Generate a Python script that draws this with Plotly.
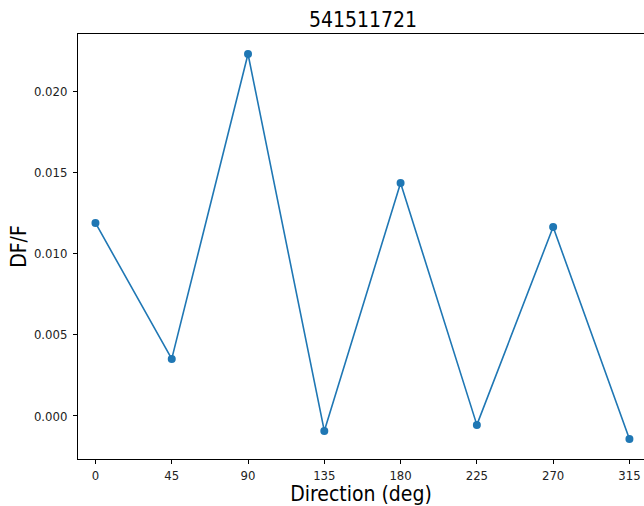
import plotly.graph_objects as go

# Mean response per stimulus direction
directions = [0, 45, 90, 135, 180, 225, 270, 315]
df_f = [0.01188, 0.00351, 0.02228, -0.00092, 0.01434, -0.00055, 0.01163, -0.00142]
x_ticks = [0, 45, 90, 135, 180, 225, 270, 315]
y_ticks = [0.000, 0.005, 0.010, 0.015, 0.020]
y_tick_text = ["0.000", "0.005", "0.010", "0.015", "0.020"]

blue = "#1f77b4"
font = "DejaVu Sans Condensed, DejaVu Sans"

fig = go.Figure(
    go.Scatter(
        x=directions,
        y=df_f,
        mode="lines+markers",
        line=dict(color=blue, width=1.6),
        marker=dict(color=blue, size=8),
    )
)

fig.update_layout(
    width=644,
    height=506,
    margin=dict(l=78, r=0, t=34, b=47),
    paper_bgcolor="white",
    plot_bgcolor="white",
    showlegend=False,
    font=dict(family=font, color="black"),
    title=dict(
        text="541511721",
        x=363 / 644,
        xref="container",
        xanchor="center",
        y=1 - 20 / 506,
        yref="container",
        yanchor="middle",
        font=dict(size=21, family=font, color="black"),
    ),
)

fig.update_xaxes(
    range=[-10.3, 323.6],
    tickmode="array",
    tickvals=x_ticks,
    ticktext=[str(t) for t in x_ticks],
    ticks="outside",
    ticklen=4,
    tickwidth=1,
    tickcolor="black",
    tickfont=dict(size=13, family=font, color="#222"),
    showline=True,
    linecolor="black",
    linewidth=1,
    mirror=True,
    showgrid=False,
    zeroline=False,
    title=dict(text="Direction (deg)", font=dict(size=21, family=font, color="black"), standoff=6),
)

fig.update_yaxes(
    range=[-0.00265, 0.02351],
    tickmode="array",
    tickvals=y_ticks,
    ticktext=y_tick_text,
    ticks="outside",
    ticklen=4,
    tickwidth=1,
    tickcolor="black",
    tickfont=dict(size=13, family=font, color="#222"),
    ticklabelstandoff=3,
    showline=True,
    linecolor="black",
    linewidth=1,
    mirror=False,
    showgrid=False,
    zeroline=False,
    title=dict(text="DF/F", font=dict(size=21, family=font, color="black"), standoff=1),
)

fig.write_html("out.html")
